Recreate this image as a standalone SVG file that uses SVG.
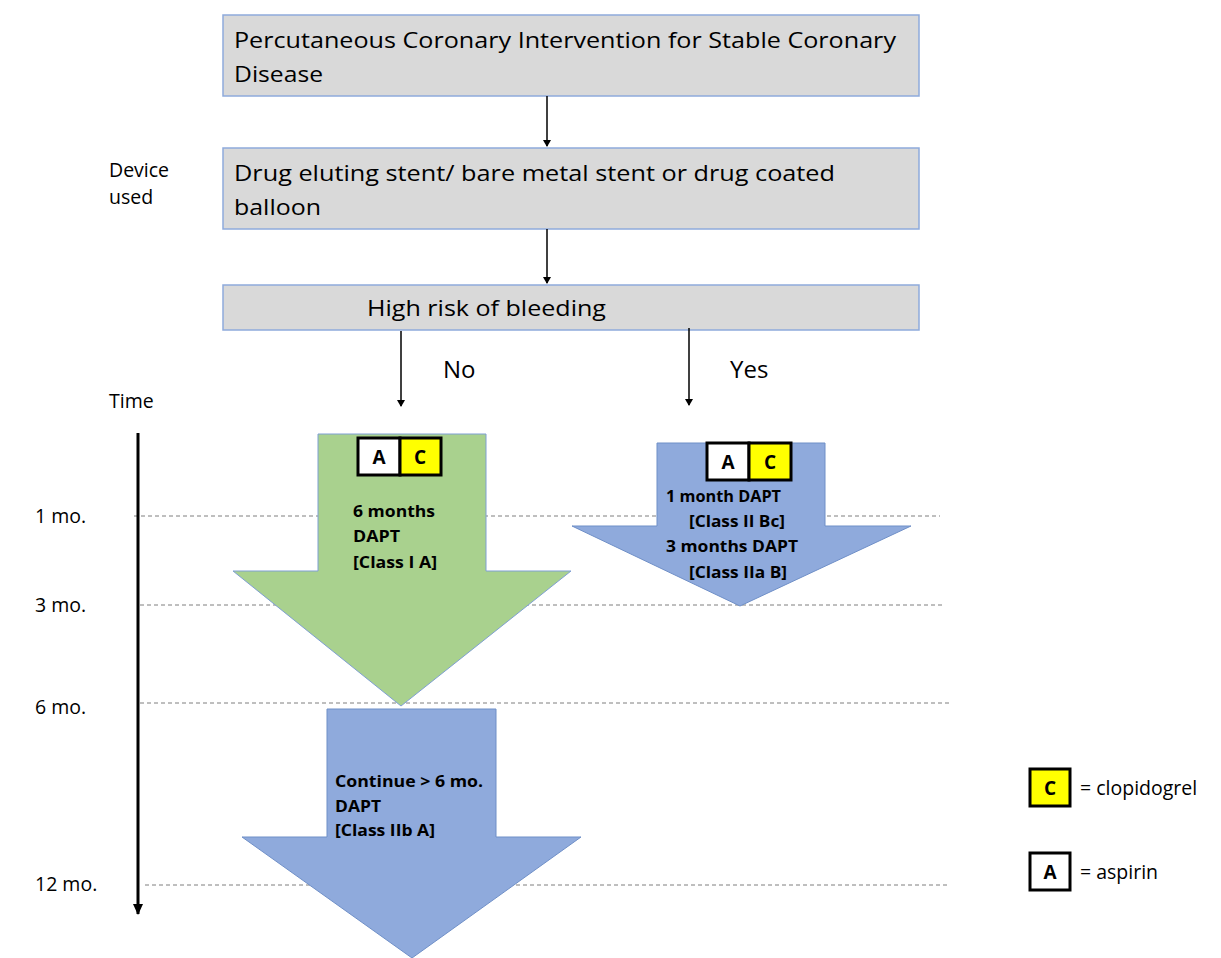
<svg xmlns="http://www.w3.org/2000/svg" width="1221" height="958" viewBox="0 0 1221 958">
<style>
.box{fill:#d9d9d9;stroke:#8eaadb;stroke-width:1.5}
.t{font-family:"Open Sans","Liberation Sans",sans-serif;fill:#000}
.big{font-size:22px}
.yn{font-size:24px}
.sm{font-size:19.5px}
.b{font-family:"Open Sans","Liberation Sans",sans-serif;font-weight:bold;font-size:16px;fill:#000}
.L{font-family:"Open Sans","Liberation Sans",sans-serif;font-weight:bold;font-size:19px;fill:#000;text-anchor:middle}
.dash{stroke:#7f7f7f;stroke-width:1;stroke-dasharray:4 3;fill:none}
.con{stroke:#000;stroke-width:1.5;fill:none}
.green{fill:#a9d18e;stroke:#7f9fd3;stroke-width:1}
.blue{fill:#8faadc;stroke:#6f8fc7;stroke-width:1}
.cell{stroke:#000;stroke-width:3}
</style>
<defs>
<marker id="ah" markerWidth="8" markerHeight="8" refX="6" refY="4" orient="auto" markerUnits="userSpaceOnUse">
<path d="M0,0 L7,4 L0,8 Z" fill="#000"/>
</marker>
<marker id="ah2" markerWidth="12" markerHeight="12" refX="10" refY="6" orient="auto" markerUnits="userSpaceOnUse">
<path d="M0,1 L11,6 L0,11 Z" fill="#000"/>
</marker>
</defs>
<rect width="1221" height="958" fill="#fff"/>

<g id="gridlines">
<line class="dash" x1="134" y1="516" x2="940" y2="516"/>
<line class="dash" x1="140" y1="605" x2="945" y2="605"/>
<line class="dash" x1="140" y1="703" x2="950" y2="703"/>
<line class="dash" x1="145" y1="885" x2="950" y2="885"/>
</g>

<g id="timeline">
<line x1="138" y1="433" x2="138" y2="914" stroke="#000" stroke-width="3" marker-end="url(#ah2)"/>
<text class="t sm" x="109" y="408">Time</text>
<text class="t sm" x="35" y="523">1 mo.</text>
<text class="t sm" x="35" y="612">3 mo.</text>
<text class="t sm" x="35" y="714">6 mo.</text>
<text class="t sm" x="35" y="891">12 mo.</text>
</g>

<g id="device-label">
<text class="t sm" x="109" y="177">Device</text>
<text class="t sm" x="109" y="204">used</text>
</g>

<g id="node-pci">
<rect class="box" x="223" y="15" width="696" height="81"/>
<text class="t big" x="234" y="48" textLength="662" lengthAdjust="spacingAndGlyphs">Percutaneous Coronary Intervention for Stable Coronary</text>
<text class="t big" x="234" y="82" textLength="89" lengthAdjust="spacingAndGlyphs">Disease</text>
</g>

<g id="node-device">
<rect class="box" x="223" y="148" width="696" height="81"/>
<text class="t big" x="234" y="181" textLength="601" lengthAdjust="spacingAndGlyphs">Drug eluting stent/ bare metal stent or drug coated</text>
<text class="t big" x="234" y="215" textLength="87" lengthAdjust="spacingAndGlyphs">balloon</text>
</g>

<g id="node-bleeding">
<rect class="box" x="223" y="285" width="696" height="45"/>
<text class="t big" x="367" y="316" textLength="239" lengthAdjust="spacingAndGlyphs">High risk of bleeding</text>
</g>

<g id="connectors">
<line class="con" x1="547" y1="96" x2="547" y2="146" marker-end="url(#ah)"/>
<line class="con" x1="547" y1="229" x2="547" y2="283" marker-end="url(#ah)"/>
<line class="con" x1="401" y1="331" x2="401" y2="406" marker-end="url(#ah)"/>
<line class="con" x1="689" y1="328" x2="689" y2="405" marker-end="url(#ah)"/>
<text class="t yn" x="443" y="378">No</text>
<text class="t yn" x="730" y="378">Yes</text>
</g>

<g id="node-6months">
<path class="green" d="M318,434 L486,434 L486,571 L571,571 L401,706 L233,571 L318,571 Z"/>
<rect class="cell" x="358" y="438" width="42" height="37" fill="#fff"/>
<rect class="cell" x="400" y="438" width="41" height="37" fill="#ffff00"/>
<text class="L" x="379" y="464">A</text>
<text class="L" x="420" y="464">C</text>
<text class="b" x="353" y="517" textLength="82" lengthAdjust="spacingAndGlyphs">6 months</text>
<text class="b" x="353" y="542" textLength="47" lengthAdjust="spacingAndGlyphs">DAPT</text>
<text class="b" x="353" y="568" textLength="84" lengthAdjust="spacingAndGlyphs">[Class I A]</text>
</g>

<g id="node-1-3months">
<path class="blue" d="M657,443 L825,443 L825,526 L911,526 L740,606 L572,526 L657,526 Z"/>
<rect class="cell" x="707" y="443" width="42" height="37" fill="#fff"/>
<rect class="cell" x="749" y="443" width="42" height="37" fill="#ffff00"/>
<text class="L" x="728" y="469">A</text>
<text class="L" x="770" y="469">C</text>
<text class="b" x="666" y="502" textLength="115" lengthAdjust="spacingAndGlyphs">1 month DAPT</text>
<text class="b" x="689" y="527" textLength="96" lengthAdjust="spacingAndGlyphs">[Class II Bc]</text>
<text class="b" x="666" y="552" textLength="132" lengthAdjust="spacingAndGlyphs">3 months DAPT</text>
<text class="b" x="689" y="578" textLength="98" lengthAdjust="spacingAndGlyphs">[Class IIa B]</text>
</g>

<g id="node-continue">
<path class="blue" d="M327,709 L496,709 L496,837 L581,837 L412,958 L242,837 L327,837 Z"/>
<text class="b" x="335" y="787" textLength="148" lengthAdjust="spacingAndGlyphs">Continue &gt; 6 mo.</text>
<text class="b" x="335" y="812" textLength="46" lengthAdjust="spacingAndGlyphs">DAPT</text>
<text class="b" x="335" y="836" textLength="100" lengthAdjust="spacingAndGlyphs">[Class IIb A]</text>
</g>

<g id="legend-c">
<rect class="cell" x="1030" y="769" width="40" height="37" fill="#ffff00"/>
<text class="L" x="1050" y="795">C</text>
<text class="t sm" x="1080" y="795">= clopidogrel</text>
</g>
<g id="legend-a">
<rect class="cell" x="1030" y="853" width="40" height="37" fill="#fff"/>
<text class="L" x="1050" y="879">A</text>
<text class="t sm" x="1080" y="879">= aspirin</text>
</g>
</svg>
